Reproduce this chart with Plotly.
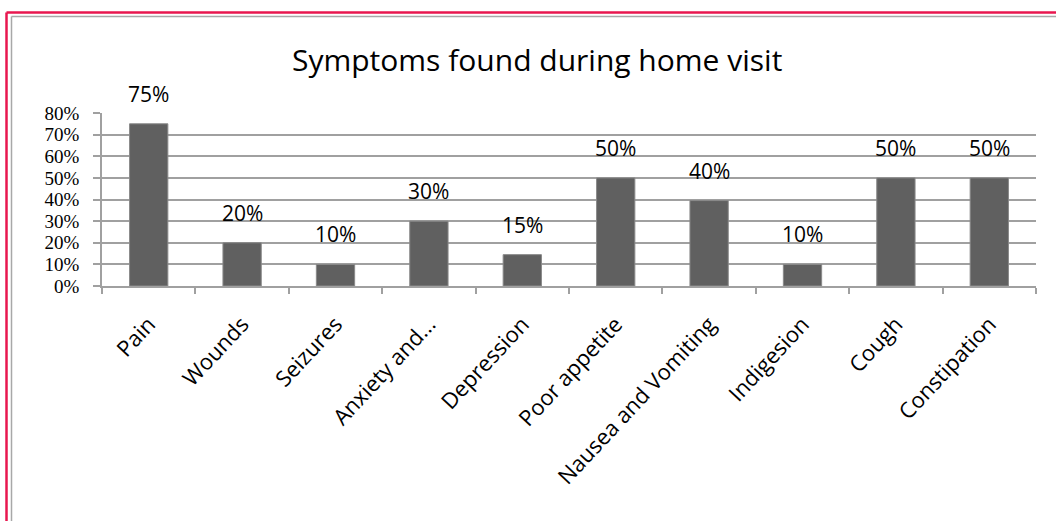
import plotly.graph_objects as go

categories = ["Pain", "Wounds", "Seizures", "Anxiety and...", "Depression",
              "Poor appetite", "Nausea and Vomiting", "Indigesion", "Cough", "Constipation"]
values = [0.75, 0.20, 0.10, 0.30, 0.145, 0.50, 0.395, 0.10, 0.50, 0.50]
value_labels = ["75%", "20%", "10%", "30%", "15%", "50%", "40%", "10%", "50%", "50%"]
y_ticks = [0, 0.1, 0.2, 0.3, 0.4, 0.5, 0.6, 0.7, 0.8]
y_tick_labels = ["0%", "10%", "20%", "30%", "40%", "50%", "60%", "70%", "80%"]
title_text = "Symptoms found during home visit"

W, H = 1056, 521
L, R, T, B = 102, 20, 113, 235
PW, PH = W - L - R, H - T - B

def px_x(p):
    return (p - L) / PW

def px_y(p):
    return 1 - (p - T) / PH

fig = go.Figure()
fig.add_trace(go.Bar(
    x=categories, y=values,
    marker=dict(color="#606060", line=dict(color="#8a8a8a", width=1)),
    width=0.41,
    hoverinfo="skip",
))

for c, v, t in zip(categories, values, value_labels):
    fig.add_annotation(x=c, y=v, text=t, showarrow=False, yanchor="bottom",
                       yshift=14, font=dict(family="Open Sans", size=21, color="#000"))

fig.add_annotation(xref="paper", yref="paper", x=px_x(537), y=px_y(59),
                   text=title_text, showarrow=False, xanchor="center", yanchor="middle",
                   font=dict(family="Open Sans", size=30, color="#000"))

# borders
red = "#E8174F"
gray = "#a8a8a8"
fig.add_shape(type="line", xref="paper", yref="paper", x0=px_x(6.5), x1=px_x(1060),
              y0=px_y(12.5), y1=px_y(12.5), line=dict(color=red, width=2.5))
fig.add_shape(type="line", xref="paper", yref="paper", x0=px_x(6.5), x1=px_x(6.5),
              y0=px_y(12.5), y1=px_y(530), line=dict(color=red, width=2.5))
fig.add_shape(type="line", xref="paper", yref="paper", x0=px_x(11.5), x1=px_x(1060),
              y0=px_y(16.5), y1=px_y(16.5), line=dict(color=gray, width=1.5))
fig.add_shape(type="line", xref="paper", yref="paper", x0=px_x(11.5), x1=px_x(11.5),
              y0=px_y(16.5), y1=px_y(530), line=dict(color=gray, width=1.5))

fig.update_layout(
    width=W, height=H,
    margin=dict(l=L, r=R, t=T, b=B, pad=0),
    paper_bgcolor="white", plot_bgcolor="white",
    showlegend=False,
    xaxis=dict(
        type="category", tickangle=-47, tickson="boundaries",
        ticks="outside", ticklen=6, tickcolor="#a0a0a0", tickwidth=1.5,
        showline=True, linecolor="#a0a0a0", linewidth=1.5,
        showgrid=False,
        tickfont=dict(family="Open Sans", size=22, color="#000"),
        ticklabelstandoff=15,
        range=[-0.5, len(categories) - 0.5],
    ),
    yaxis=dict(
        range=[0, 0.8], tickvals=y_ticks, ticktext=y_tick_labels,
        ticks="outside", ticklen=7, tickcolor="#a0a0a0", tickwidth=1.5,
        showline=True, linecolor="#a0a0a0", linewidth=1.5,
        showgrid=True, gridcolor="#a0a0a0", gridwidth=1.5,
        zeroline=False,
        tickfont=dict(family="Liberation Serif", size=19, color="#000"),
        ticklabelstandoff=10,
    ),
)

fig.write_html("out.html", config={"displayModeBar": False},
               post_script="document.body.style.margin='0';")
